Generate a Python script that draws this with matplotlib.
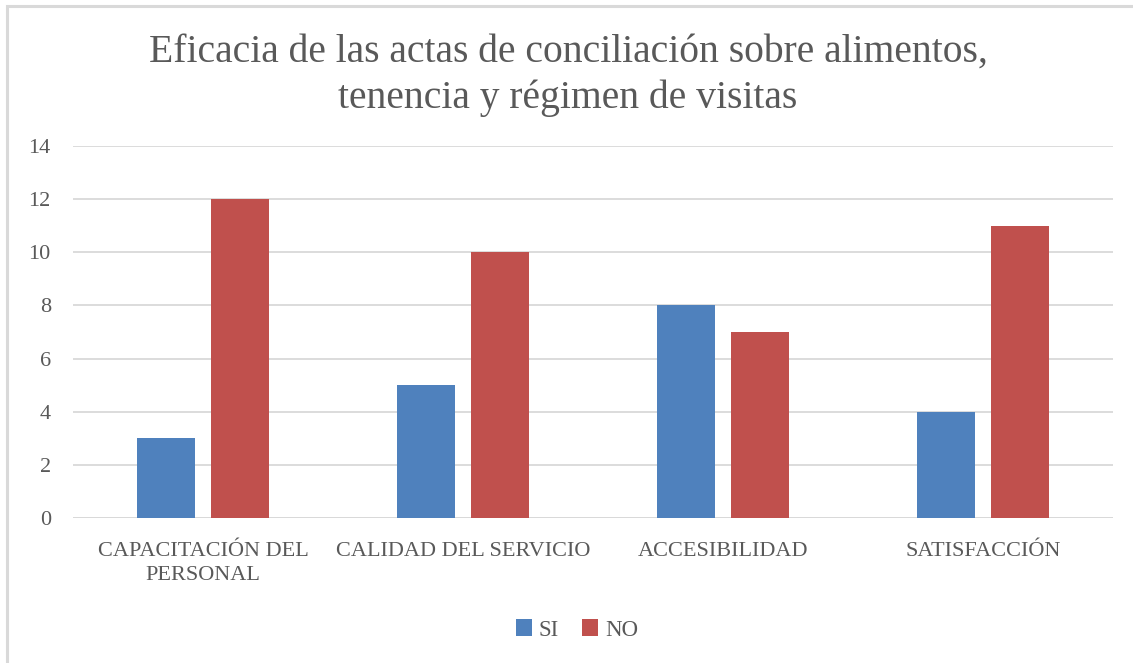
import matplotlib
matplotlib.use("Agg")
import matplotlib.pyplot as plt
import numpy as np
from matplotlib.patches import Rectangle

plt.rcParams['font.family'] = ['Liberation Serif', 'DejaVu Serif']

# data
categories = ["CAPACITACIÓN DEL\nPERSONAL", "CALIDAD DEL SERVICIO", "ACCESIBILIDAD", "SATISFACCIÓN"]
si_values = [3, 5, 8, 4]
no_values = [12, 10, 7, 11]
series_names = ["SI", "NO"]
yticks = [0, 2, 4, 6, 8, 10, 12, 14]
title = "Eficacia de las actas de conciliación sobre alimentos,\ntenencia y régimen de visitas"

W, H = 1133, 663
fig = plt.figure(figsize=(W / 100, H / 100), dpi=100)
fig.patch.set_facecolor("white")

# outer chart border (open to right/bottom like the cropped original)
fig.add_artist(Rectangle((7 / W, -0.05), 1.05, (H - 6) / H + 0.05,
                         transform=fig.transFigure, fill=False,
                         edgecolor="#D9D9D9", linewidth=2.2))

ax = fig.add_axes([73 / W, (H - 518) / H, (1113 - 73) / W, (518 - 146) / H])
x = np.arange(len(categories))
bw = 0.223
off = 0.142
ax.bar(x - off, si_values, bw, color="#4F81BD", label=series_names[0], zorder=3)
ax.bar(x + off, no_values, bw, color="#C0504D", label=series_names[1], zorder=3)

ax.set_xlim(-0.5, len(categories) - 0.5)
ax.set_ylim(0, 14)
ax.set_yticks(yticks)
ax.yaxis.grid(True, color="#D9D9D9", linewidth=1.3, zorder=0)
for s in ax.spines.values():
    s.set_visible(False)
ax.tick_params(axis="both", length=0, colors="#595959", labelsize=16)
ax.tick_params(axis="y", pad=16)
ax.tick_params(axis="x", pad=17)
ax.set_xticks(x)
ax.set_xticklabels(categories, linespacing=1.4)
ax.axhline(0, color="#D9D9D9", linewidth=1.3, zorder=2)

fig.text(568 / W, 1 - 75 / H, title, ha="center", va="center",
         fontsize=28.5, color="#595959", linespacing=1.3)

fig.legend(loc="center", bbox_to_anchor=(577 / W, 1 - 630 / H), ncol=2,
           frameon=False, fontsize=16.5, handlelength=0.7, handleheight=0.7,
           handletextpad=0.3, columnspacing=1.0, labelcolor="#595959")

fig.savefig("out.png", dpi=100)
